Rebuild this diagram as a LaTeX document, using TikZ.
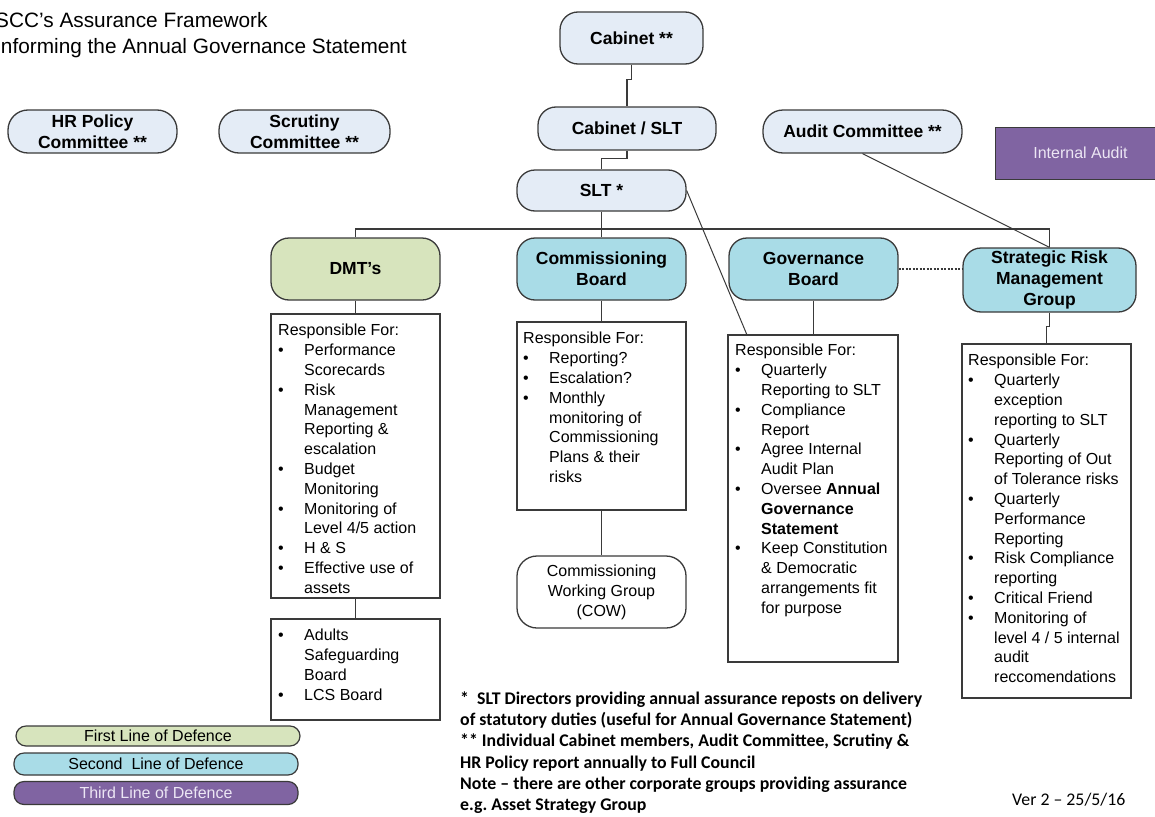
\documentclass[tikz,border=0pt]{standalone}
\usepackage{fontspec}
\setmainfont{Liberation Sans}
\newfontfamily\calibfont{Carlito}
\definecolor{linec}{HTML}{3A3A3A}
\definecolor{paleblue}{HTML}{E4ECF6}
\definecolor{firstgreen}{HTML}{D7E4BD}
\definecolor{secondcyan}{HTML}{A9DCE7}
\definecolor{thirdpurple}{HTML}{8064A2}
\definecolor{lavtext}{HTML}{ECE6F4}
\newcommand\bl{\makebox[26pt][l]{\textbullet}}
\newcommand\ct{\hspace*{26pt}}
\tikzset{
  pill/.style={draw=linec, line width=1.3pt, rounded corners=18pt, fill=paleblue,
    font=\bfseries\fontsize{17.5}{21}\selectfont, align=center, inner sep=0pt},
  respbox/.style={draw=linec, line width=1.3pt, fill=white, inner sep=0pt},
  resptext/.style={anchor=north west, align=left, inner sep=0pt,
    font=\fontsize{16}{19.8}\selectfont},
  link/.style={draw=linec, line width=1.3pt},
  legend/.style={draw=linec, line width=1.2pt, rounded corners=10pt, inner sep=0pt,
    minimum width=284pt, font=\fontsize{16}{19}\selectfont},
}
\begin{document}
\begin{tikzpicture}[x=1pt, y=-1pt]
\useasboundingbox (0,0) rectangle (1155,816);

% title
\node[anchor=north west, align=left, inner sep=0pt, font=\fontsize{20.8}{26}\selectfont]
  (title) at (-5,12) {SCC's Assurance Framework\\Informing the Annual Governance Statement};

% top committees
\node[pill, minimum width=143pt, minimum height=52pt] (cab) at (631.5,38) {Cabinet **};
\node[pill, minimum width=178pt, minimum height=43pt] (cabslt) at (627,128.5) {Cabinet / SLT};
\node[pill, minimum width=169pt, minimum height=41pt] (slt) at (601.5,190.5) {SLT *};
\node[pill, rounded corners=20pt, minimum width=169pt, minimum height=43pt] (hr) at (92.5,131.5) {HR Policy\\Committee **};
\node[pill, rounded corners=20pt, minimum width=171pt, minimum height=43pt] (scr) at (304.5,131.5) {Scrutiny\\Committee **};
\node[pill, rounded corners=20pt, minimum width=199pt, minimum height=43pt] (audit) at (862.5,131.5) {Audit Committee **};
\node[draw=linec, line width=1pt, fill=thirdpurple, text=lavtext, inner sep=0pt,
  minimum width=171pt, minimum height=52pt, font=\fontsize{16}{19}\selectfont]
  (ia) at (1080.5,153) {Internal Audit};

% boards
\node[pill, fill=firstgreen, minimum width=169pt, minimum height=62pt] (dmt) at (355.5,269) {DMT's};
\node[pill, fill=secondcyan, minimum width=169pt, minimum height=62pt] (comm) at (601.5,269) {Commissioning\\Board};
\node[pill, fill=secondcyan, minimum width=169pt, minimum height=62pt] (gov) at (813.5,269) {Governance\\Board};
\node[pill, fill=secondcyan, minimum width=173pt, minimum height=64pt] (srmg) at (1049.5,280) {Strategic Risk\\Management\\Group};

% responsibility boxes
\node[respbox, minimum width=169pt, minimum height=284pt] (dmtresp) at (355.5,456) {};
\node[respbox, minimum width=169pt, minimum height=101pt] (adults) at (355.5,669.5) {};
\node[respbox, minimum width=169pt, minimum height=188pt] (commresp) at (601.5,416) {};
\node[respbox, rounded corners=20pt, minimum width=169pt, minimum height=72pt,
  align=center, font=\fontsize{16}{20}\selectfont] (cow) at (601.5,592) {Commissioning\\Working Group\\(COW)};
\node[respbox, minimum width=170pt, minimum height=327pt] (govresp) at (813,498.5) {};
\node[respbox, minimum width=169pt, minimum height=354pt] (srmgresp) at (1046.5,521) {};

\node[resptext] (dmttext) at (278,324) {Responsible For:\\
\bl Performance\\ \ct Scorecards\\
\bl Risk\\ \ct Management\\ \ct Reporting \&\\ \ct escalation\\
\bl Budget\\ \ct Monitoring\\
\bl Monitoring of\\ \ct Level 4/5 action\\
\bl H \& S\\
\bl Effective use of\\ \ct assets};

\node[resptext] (adultstext) at (278,629) {\bl Adults\\ \ct Safeguarding\\ \ct Board\\ \bl LCS Board};

\node[resptext] (commtext) at (523,332) {Responsible For:\\
\bl Reporting?\\
\bl Escalation?\\
\bl Monthly\\ \ct monitoring of\\ \ct Commissioning\\ \ct Plans \& their\\ \ct risks};

\node[resptext] (govtext) at (735,344) {Responsible For:\\
\bl Quarterly\\ \ct Reporting to SLT\\
\bl Compliance\\ \ct Report\\
\bl Agree Internal\\ \ct Audit Plan\\
\bl Oversee \textbf{Annual}\\ \ct \textbf{Governance}\\ \ct \textbf{Statement}\\
\bl Keep Constitution\\ \ct \& Democratic\\ \ct arrangements fit\\ \ct for purpose};

\node[resptext] (srmgtext) at (968,354) {Responsible For:\\
\bl Quarterly\\ \ct exception\\ \ct reporting to SLT\\
\bl Quarterly\\ \ct Reporting of Out\\ \ct of Tolerance risks\\
\bl Quarterly\\ \ct Performance\\ \ct Reporting\\
\bl Risk Compliance\\ \ct reporting\\
\bl Critical Friend\\
\bl Monitoring of\\ \ct level 4 / 5 internal\\ \ct audit\\ \ct reccomendations};

% connectors
\coordinate (busR) at (1049.5,229);
\coordinate (govcorner) at (747,335);
\draw[link] (cab.south) -- ++(0,15) -| (cabslt.north);
\draw[link] (cabslt.south) -- ++(0,8) -| (slt.north);
\draw[link] (slt.south) -- (comm.north);
\draw[link] (dmt.north) |- (busR) -- (srmg.north);
\draw[link, line width=1pt] (slt.east) -- (govcorner);
\draw[link, line width=1pt] (audit.south) -- (srmg.north);
\draw[linec, line width=1.2pt, dash pattern=on 2pt off 1.5pt] (gov.east) -- (gov.east -| srmg.west);
\draw[link] (dmt.south) -- (dmtresp.north);
\draw[link] (dmtresp.south) -- (adults.north);
\draw[link] (comm.south) -- (commresp.north);
\draw[link] (commresp.south) -- (cow.north);
\draw[link] (gov.south) -- (gov.south |- govresp.north);
\draw[link] (srmg.south) -- ++(0,14) -| (srmgresp.north);

% legend
\node[legend, fill=firstgreen, minimum height=20pt] (leg1) at (158,736) {First Line of Defence};
\node[legend, fill=secondcyan, minimum height=22pt] (leg2) at (156,764) {Second\ \ Line of Defence};
\node[legend, fill=thirdpurple, text=lavtext, minimum height=23pt] (leg3) at (156,793) {Third Line of Defence};

% notes
\node[anchor=north west, align=left, inner sep=0pt,
  font=\calibfont\bfseries\fontsize{17.8}{21.2}\selectfont] (notes) at (460,691.5)
  {*\ \ SLT Directors providing annual assurance reposts on delivery\\
   of statutory duties (useful for Annual Governance Statement)\\
   ** Individual Cabinet members, Audit Committee, Scrutiny \&\\
   HR Policy report annually to Full Council\\
   Note – there are other corporate groups providing assurance\\
   e.g.\ Asset Strategy Group};
\node[anchor=west, inner sep=0pt, font=\calibfont\fontsize{17.8}{21}\selectfont] (ver) at (1012,800) {Ver 2 – 25/5/16};
\end{tikzpicture}
\end{document}
